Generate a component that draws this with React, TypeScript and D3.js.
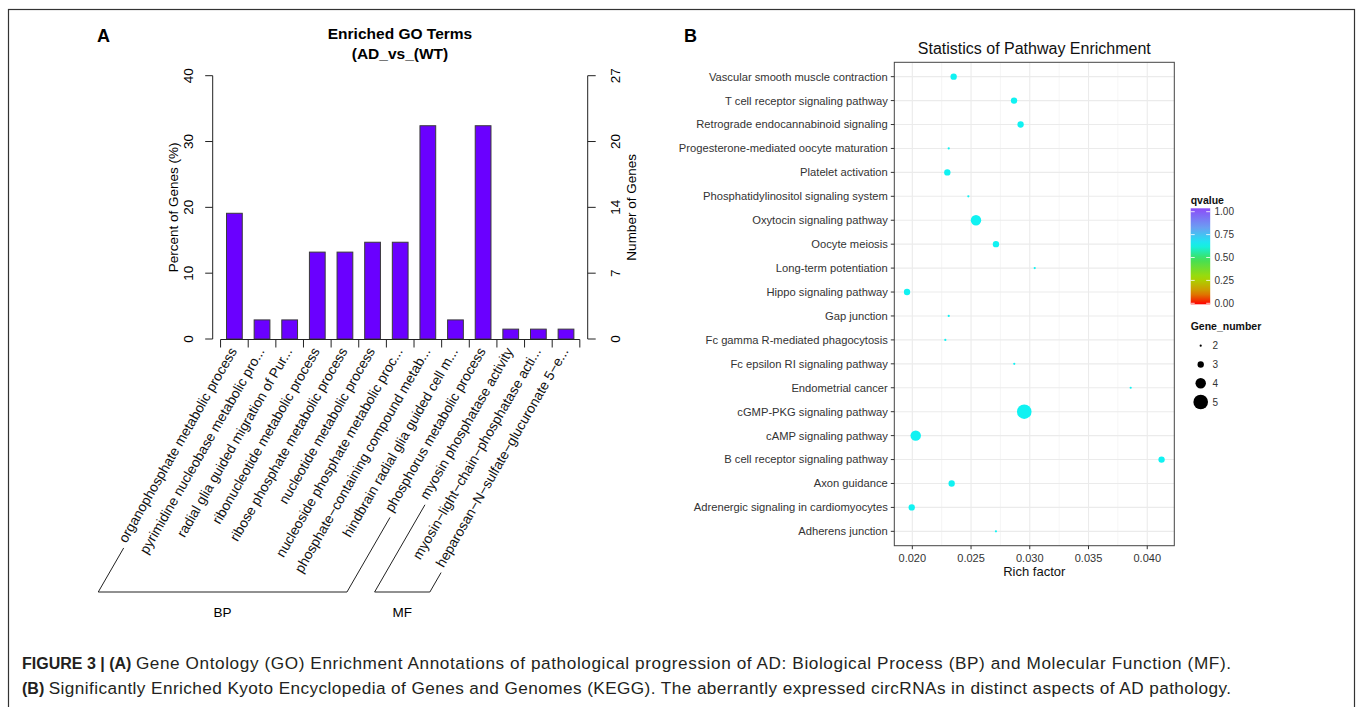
import React, { useEffect, useRef } from 'react';
import * as d3 from 'd3';

// ---- Panel A: enriched GO terms (bar chart) ----
const goTerms = [
  'organophosphate metabolic process',
  'pyrimidine nucleobase metabolic pro...',
  'radial glia guided migration of Pur...',
  'ribonucleotide metabolic process',
  'ribose phosphate metabolic process',
  'nucleotide metabolic process',
  'nucleoside phosphate metabolic proc...',
  'phosphate\u2212containing compound metab...',
  'hindbrain radial glia guided cell m...',
  'phosphorus metabolic process',
  'myosin phosphatase activity',
  'myosin\u2212light\u2212chain\u2212phosphatase acti...',
  'heparosan\u2212N\u2212sulfate\u2212glucuronate 5\u2212e...',
];
const goGroup = ['BP', 'BP', 'BP', 'BP', 'BP', 'BP', 'BP', 'BP', 'BP', 'BP', 'MF', 'MF', 'MF'];
const goPercent = [19.1, 2.9, 2.9, 13.2, 13.2, 14.7, 14.7, 32.4, 2.9, 32.4, 1.5, 1.5, 1.5];
const percentTicks = [0, 10, 20, 30, 40];
const maxPercent = 40;
const maxGenes = 27;

// ---- Panel B: KEGG pathway enrichment (dot plot) ----
const pathways = [
  'Vascular smooth muscle contraction',
  'T cell receptor signaling pathway',
  'Retrograde endocannabinoid signaling',
  'Progesterone-mediated oocyte maturation',
  'Platelet activation',
  'Phosphatidylinositol signaling system',
  'Oxytocin signaling pathway',
  'Oocyte meiosis',
  'Long-term potentiation',
  'Hippo signaling pathway',
  'Gap junction',
  'Fc gamma R-mediated phagocytosis',
  'Fc epsilon RI signaling pathway',
  'Endometrial cancer',
  'cGMP-PKG signaling pathway',
  'cAMP signaling pathway',
  'B cell receptor signaling pathway',
  'Axon guidance',
  'Adrenergic signaling in cardiomyocytes',
  'Adherens junction',
];
const richFactor = [
  0.02352, 0.02866, 0.02922, 0.0231, 0.02298, 0.02477, 0.02542, 0.02712, 0.03042, 0.01955,
  0.0231, 0.02281, 0.02868, 0.03859, 0.02953, 0.02029, 0.04122, 0.02335, 0.01995, 0.02712,
];
const geneNumber = [3, 3, 3, 2, 3, 2, 4, 3, 2, 3, 2, 2, 2, 2, 5, 4, 3, 3, 3, 2];
const qvalue = [
  0.62, 0.62, 0.62, 0.62, 0.62, 0.62, 0.62, 0.62, 0.62, 0.62,
  0.62, 0.62, 0.62, 0.62, 0.62, 0.62, 0.62, 0.62, 0.62, 0.62,
];
const richTicks = [0.02, 0.025, 0.03, 0.035, 0.04];
const richMinor = [0.0225, 0.0275, 0.0325, 0.0375];
const qTicks = [0, 0.25, 0.5, 0.75, 1];
const geneLegend = [2, 3, 4, 5];

// ---- caption ----
const captionLines = [
  ['FIGURE 3 | (A)', 'Gene Ontology (GO) Enrichment Annotations of pathological progression of AD: Biological Process (BP) and Molecular Function (MF).'],
  ['(B)', 'Significantly Enriched Kyoto Encyclopedia of Genes and Genomes (KEGG). The aberrantly expressed circRNAs in distinct aspects of AD pathology.'],
];

const FONT = '"Liberation Sans", Arial, Helvetica, sans-serif';

export default function App() {
  const ref = useRef<SVGSVGElement>(null);

  useEffect(() => {
    const svg = d3.select(ref.current);
    svg.selectAll('*').remove();
    svg.attr('font-family', FONT);

    // outer frame
    svg.append('rect')
      .attr('x', 8.5).attr('y', 9.5)
      .attr('width', 1346).attr('height', 760)
      .attr('fill', 'none').attr('stroke', '#333').attr('stroke-width', 1.2);

    // ================= Panel A =================
    const gA = svg.append('g');
    gA.append('text').attr('x', 97).attr('y', 42)
      .attr('font-size', 18).attr('font-weight', 'bold').text('A');

    const yA = d3.scaleLinear().domain([0, maxPercent]).range([339, 75.7]);
    const xA = d3.scaleBand<number>()
      .domain(d3.range(goTerms.length))
      .range([212.7, 587.7])
      .paddingInner(0.43)
      .paddingOuter(0.5);
    const bw = xA.bandwidth();
    const gap = xA.step() - bw;

    gA.append('text').attr('x', 400).attr('y', 39).attr('text-anchor', 'middle')
      .attr('font-size', 15.5).attr('font-weight', 'bold').text('Enriched GO Terms');
    gA.append('text').attr('x', 400).attr('y', 59).attr('text-anchor', 'middle')
      .attr('font-size', 15.5).attr('font-weight', 'bold').text('(AD_vs_(WT)');

    // bars
    gA.selectAll('rect.bar').data(goPercent).join('rect')
      .attr('class', 'bar')
      .attr('x', (_, i) => xA(i)!)
      .attr('y', d => yA(d))
      .attr('width', bw)
      .attr('height', d => yA(0) - yA(d))
      .attr('fill', '#6a00ff')
      .attr('stroke', '#3a3a3a')
      .attr('stroke-width', 1);

    const axisColor = '#222';
    // left axis
    const xl = 212.7;
    gA.append('line').attr('x1', xl).attr('x2', xl)
      .attr('y1', yA(0)).attr('y2', yA(maxPercent)).attr('stroke', axisColor);
    percentTicks.forEach(t => {
      gA.append('line').attr('x1', xl - 7.5).attr('x2', xl)
        .attr('y1', yA(t)).attr('y2', yA(t)).attr('stroke', axisColor);
      gA.append('text')
        .attr('transform', `translate(188.5,${yA(t)}) rotate(-90)`)
        .attr('dy', '0.35em').attr('text-anchor', 'middle')
        .attr('font-size', 13.5).text(String(t));
    });
    gA.append('text')
      .attr('transform', `translate(173,${(yA(0) + yA(maxPercent)) / 2}) rotate(-90)`)
      .attr('dy', '0.35em').attr('text-anchor', 'middle')
      .attr('font-size', 13.5).text('Percent of Genes (%)');

    // right axis
    const xr = 587.7;
    gA.append('line').attr('x1', xr).attr('x2', xr)
      .attr('y1', yA(0)).attr('y2', yA(maxPercent)).attr('stroke', axisColor);
    percentTicks.forEach(t => {
      gA.append('line').attr('x1', xr).attr('x2', xr + 8)
        .attr('y1', yA(t)).attr('y2', yA(t)).attr('stroke', axisColor);
      gA.append('text')
        .attr('transform', `translate(615,${yA(t)}) rotate(-90)`)
        .attr('dy', '0.35em').attr('text-anchor', 'middle')
        .attr('font-size', 13.5).text(String(Math.round((t * maxGenes) / maxPercent)));
    });
    gA.append('text')
      .attr('transform', `translate(631.5,${(yA(0) + yA(maxPercent)) / 2}) rotate(-90)`)
      .attr('dy', '0.35em').attr('text-anchor', 'middle')
      .attr('font-size', 13.5).text('Number of Genes');

    // bottom axis with ticks at band boundaries
    const bounds = d3.range(goTerms.length + 1).map(i =>
      i < goTerms.length ? xA(i)! - gap / 2 : xA(i - 1)! + bw + gap / 2);
    gA.append('line').attr('x1', bounds[0]).attr('x2', bounds[bounds.length - 1])
      .attr('y1', 339.5).attr('y2', 339.5).attr('stroke', axisColor);
    bounds.forEach(b => {
      gA.append('line').attr('x1', b).attr('x2', b)
        .attr('y1', 339.5).attr('y2', 347.5).attr('stroke', axisColor);
    });

    // rotated term labels
    const ang = (60 * Math.PI) / 180;
    const ly = 351;
    const lx = (i: number) => xA(i)! + bw / 2 + 3;
    const lens: number[] = [];
    goTerms.forEach((t, i) => {
      const txt = gA.append('text')
        .attr('transform', `translate(${lx(i)},${ly}) rotate(-60)`)
        .attr('text-anchor', 'end')
        .attr('font-size', 13.8)
        .attr('fill', '#111')
        .text(t);
      const node = txt.node() as SVGTextElement;
      lens.push(node.getComputedTextLength());
    });

    // group brackets
    const bottomY = 592;
    const startPt = (i: number) => {
      const L = lens[i] + 5;
      return [lx(i) - L * Math.cos(ang), ly + L * Math.sin(ang)];
    };
    const toBottom = (p: number[]) => [p[0] - (bottomY - p[1]) / Math.tan(ang), bottomY];
    const groups: { name: string; first: number; last: number }[] = [];
    goGroup.forEach((g, i) => {
      const cur = groups[groups.length - 1];
      if (cur && cur.name === g) cur.last = i;
      else groups.push({ name: g, first: i, last: i });
    });
    groups.forEach(g => {
      const p1 = startPt(g.first);
      const p2 = startPt(g.last);
      const b1 = toBottom(p1);
      const b2 = toBottom(p2);
      gA.append('path')
        .attr('d', d3.line()([p1 as [number, number], b1 as [number, number], b2 as [number, number], p2 as [number, number]]))
        .attr('fill', 'none').attr('stroke', axisColor).attr('stroke-width', 1);
      gA.append('text').attr('x', (b1[0] + b2[0]) / 2).attr('y', 617)
        .attr('text-anchor', 'middle').attr('font-size', 13.5).text(g.name);
    });

    // ================= Panel B =================
    const gB = svg.append('g');
    gB.append('text').attr('x', 684).attr('y', 42)
      .attr('font-size', 18).attr('font-weight', 'bold').text('B');

    const px0 = 894.3, px1 = 1174.3, py0 = 62.3, py1 = 545.7;
    const [rmin, rmax] = d3.extent(richFactor) as [number, number];
    const pad = (rmax - rmin) * 0.05;
    const xB = d3.scaleLinear().domain([rmin - pad, rmax + pad]).range([px0, px1]);
    const yB = d3.scalePoint<string>().domain(pathways).range([py0, py1]).padding(0.6);
    const rB = d3.scaleLinear().domain([2, 5]).range([1.1, 7.3]);
    const qColor = d3.scaleLinear<string>()
      .domain([0, 0.12, 0.27, 0.47, 0.62, 0.8, 1])
      .range(['#ff0000', '#d98a00', '#a6da00', '#3fe05a', '#10f2f2', '#6b9ef2', '#8c4cf8'])
      .interpolate(d3.interpolateRgb);

    gB.append('text').attr('x', (px0 + px1) / 2).attr('y', 54).attr('text-anchor', 'middle')
      .attr('font-size', 16).attr('fill', '#111').text('Statistics of Pathway Enrichment');

    gB.append('rect').attr('x', px0).attr('y', py0).attr('width', px1 - px0).attr('height', py1 - py0)
      .attr('fill', '#fff');
    // grid
    richMinor.forEach(v => {
      gB.append('line').attr('x1', xB(v)).attr('x2', xB(v)).attr('y1', py0).attr('y2', py1)
        .attr('stroke', '#f2f2f2').attr('stroke-width', 0.8);
    });
    richTicks.forEach(v => {
      gB.append('line').attr('x1', xB(v)).attr('x2', xB(v)).attr('y1', py0).attr('y2', py1)
        .attr('stroke', '#ebebeb').attr('stroke-width', 1.1);
    });
    pathways.forEach(p => {
      gB.append('line').attr('x1', px0).attr('x2', px1).attr('y1', yB(p)!).attr('y2', yB(p)!)
        .attr('stroke', '#ebebeb').attr('stroke-width', 1.1);
    });

    // points
    gB.selectAll('circle.pt').data(pathways).join('circle')
      .attr('class', 'pt')
      .attr('cx', (_, i) => xB(richFactor[i]))
      .attr('cy', d => yB(d)!)
      .attr('r', (_, i) => rB(geneNumber[i]))
      .attr('fill', (_, i) => qColor(qvalue[i]));

    gB.append('rect').attr('x', px0).attr('y', py0).attr('width', px1 - px0).attr('height', py1 - py0)
      .attr('fill', 'none').attr('stroke', '#444').attr('stroke-width', 1);

    // y axis
    pathways.forEach(p => {
      gB.append('line').attr('x1', px0 - 3.5).attr('x2', px0).attr('y1', yB(p)!).attr('y2', yB(p)!)
        .attr('stroke', '#333');
      gB.append('text').attr('x', px0 - 6.5).attr('y', yB(p)!).attr('dy', '0.35em')
        .attr('text-anchor', 'end').attr('font-size', 11.2).attr('fill', '#333').text(p);
    });
    // x axis
    richTicks.forEach(v => {
      gB.append('line').attr('x1', xB(v)).attr('x2', xB(v)).attr('y1', py1).attr('y2', py1 + 3.5)
        .attr('stroke', '#333');
      gB.append('text').attr('x', xB(v)).attr('y', 561.5).attr('text-anchor', 'middle')
        .attr('font-size', 11).attr('fill', '#333').text(d3.format('.3f')(v));
    });
    gB.append('text').attr('x', (px0 + px1) / 2).attr('y', 576).attr('text-anchor', 'middle')
      .attr('font-size', 13).attr('fill', '#111').text('Rich factor');

    // colour legend
    const lgX = 1190.7, barW = 19.5;
    gB.append('text').attr('x', lgX).attr('y', 203.5).attr('font-size', 10.5)
      .attr('font-weight', 'bold').attr('fill', '#111').text('qvalue');
    const qLeg = d3.scaleLinear().domain([0, 1]).range([303.3, 211.7]);
    const defs = svg.append('defs');
    const grad = defs.append('linearGradient').attr('id', 'qgrad')
      .attr('x1', 0).attr('x2', 0).attr('y1', 1).attr('y2', 0);
    d3.range(0, 1.0001, 0.05).forEach(s => {
      grad.append('stop').attr('offset', s).attr('stop-color', qColor(s));
    });
    gB.append('rect').attr('x', lgX).attr('y', 208.3).attr('width', barW).attr('height', 96)
      .attr('fill', 'url(#qgrad)');
    qTicks.forEach(t => {
      const y = qLeg(t);
      gB.append('line').attr('x1', lgX).attr('x2', lgX + 4).attr('y1', y).attr('y2', y)
        .attr('stroke', '#fff').attr('stroke-width', 0.8);
      gB.append('line').attr('x1', lgX + barW - 4).attr('x2', lgX + barW).attr('y1', y).attr('y2', y)
        .attr('stroke', '#fff').attr('stroke-width', 0.8);
      gB.append('text').attr('x', 1214.5).attr('y', y).attr('dy', '0.35em')
        .attr('font-size', 10).attr('fill', '#333').text(d3.format('.2f')(t));
    });

    // size legend
    gB.append('text').attr('x', lgX).attr('y', 330).attr('font-size', 10.5)
      .attr('font-weight', 'bold').attr('fill', '#111').text('Gene_number');
    const gLeg = d3.scalePoint<number>().domain(geneLegend).range([345.7, 402]);
    geneLegend.forEach(n => {
      gB.append('circle').attr('cx', 1200.7).attr('cy', gLeg(n)!).attr('r', rB(n)).attr('fill', '#000');
      gB.append('text').attr('x', 1212.5).attr('y', gLeg(n)!).attr('dy', '0.35em')
        .attr('font-size', 10).attr('fill', '#333').text(String(n));
    });

    // ================= Caption =================
    const capRight = 1231;
    captionLines.forEach(([bold, rest], k) => {
      const y = 669 + k * 25;
      const b = svg.append('text').attr('x', 22).attr('y', y)
        .attr('font-size', 16).attr('font-weight', 'bold').attr('fill', '#231f20').text(bold);
      const bx = 22 + (b.node() as SVGTextElement).getComputedTextLength() + 4.5;
      svg.append('text').attr('x', bx).attr('y', y)
        .attr('font-size', 17.2).attr('fill', '#231f20')
        .attr('textLength', capRight - bx).attr('lengthAdjust', 'spacing')
        .text(rest);
    });
  }, []);

  return (
    <div style={{ position: 'absolute', left: 0, top: 0 }}>
      <svg ref={ref} width={1357} height={707} style={{ display: 'block', background: '#fff' }} />
    </div>
  );
}
